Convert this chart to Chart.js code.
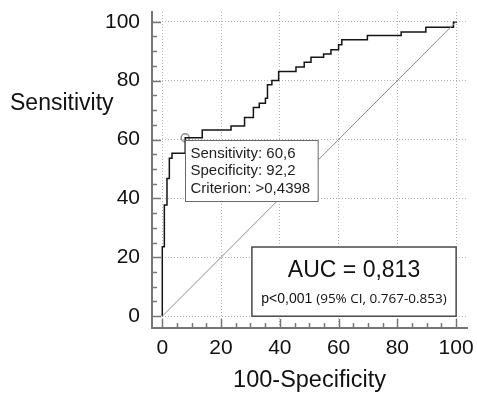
<!DOCTYPE html>
<html>
<head>
<meta charset="utf-8">
<script src="https://cdn.jsdelivr.net/npm/chart.js@4/dist/chart.umd.min.js"></script>
<style>
  html, body { margin: 0; padding: 0; background: #fff; }
  #wrap { width: 477px; height: 395px; }
</style>
</head>
<body>
<div id="wrap"><canvas id="roc" width="477" height="395"></canvas></div>
<script>
// ROC curve vertices (100-Specificity, Sensitivity), step drawn horizontal then vertical
const rocFpr  = [0, 0, 0.7, 1.6, 2.4, 3.3, 7.8, 13.6, 23.4, 28.0, 31.0, 33.0, 35.1, 35.8, 37.3, 39.6, 45.5, 48.3, 50.6, 54.9, 57.4, 60.0, 61.1, 69.8, 81.3, 89.7, 99.1, 100];
const rocSens = [0, 23.6, 37.8, 46.8, 53.6, 55.3, 60.6, 63.2, 64.6, 67.5, 70.9, 72.3, 74.0, 78.6, 80.0, 83.1, 84.6, 86.2, 87.9, 89.0, 90.5, 92.2, 93.9, 95.3, 96.5, 98.1, 99.8, 100];

const diagFpr  = [0, 100];
const diagSens = [0, 100];

const cutFpr  = [7.8];
const cutSens = [60.6];

const cutLabels = ['Sensitivity: 60,6', 'Specificity: 92,2', 'Criterion: >0,4398'];
const aucText = 'AUC = 0,813';
const pText = 'p<0,001';
const ciText = '(95% CI, 0.767-0.853)';
const aucBoxX = [30.5, 100];
const aucBoxY = [0, 23.5];

const xTitle = '100-Specificity';
const yTitle = 'Sensitivity';

const toPts = (xs, ys) => xs.map((x, i) => ({ x, y: ys[i] }));

const FONT = "'Liberation Sans', Arial, sans-serif";
const AXIS = '#767676';

const overlay = {
  id: 'overlay',
  afterDraw(chart) {
    const { ctx, chartArea: a, scales: { x, y } } = chart;
    ctx.save();

    // inward tick marks every 5, longer every 20
    ctx.strokeStyle = AXIS;
    ctx.lineWidth = 1.5;
    for (let v = 0; v <= 100; v += 5) {
      const len = v % 20 === 0 ? 9 : 5;
      const py = Math.round(y.getPixelForValue(v)) + 0.5;
      ctx.beginPath(); ctx.moveTo(a.left, py); ctx.lineTo(a.left + len, py); ctx.stroke();
      const px = Math.round(x.getPixelForValue(v)) + 0.5;
      ctx.beginPath(); ctx.moveTo(px, a.bottom); ctx.lineTo(px, a.bottom - len); ctx.stroke();
    }

    // horizontal y title
    ctx.fillStyle = '#111';
    ctx.font = '23px ' + FONT;
    ctx.textAlign = 'left';
    ctx.textBaseline = 'alphabetic';
    ctx.fillText(yTitle, 10, 110);

    // cutoff label box
    const cx = x.getPixelForValue(cutFpr[0]);
    const cy = y.getPixelForValue(cutSens[0]);
    ctx.font = '15px ' + FONT;
    const w = Math.max(...cutLabels.map(t => ctx.measureText(t).width)) + 13;
    const bx = Math.round(cx) + 0.5, by = Math.round(cy + 2) + 0.5;
    ctx.fillStyle = '#fff';
    ctx.fillRect(bx, by, w, 61);
    ctx.strokeStyle = '#6a6a6a';
    ctx.lineWidth = 1;
    ctx.strokeRect(bx, by, w, 61);
    ctx.fillStyle = '#1e1e1e';
    cutLabels.forEach((t, i) => ctx.fillText(t, bx + 5, by + 17 + i * 17.5));

    // AUC box
    const l = x.getPixelForValue(aucBoxX[0]), r = x.getPixelForValue(aucBoxX[1]);
    const t = y.getPixelForValue(aucBoxY[1]), b = y.getPixelForValue(aucBoxY[0]);
    ctx.fillStyle = '#fff';
    ctx.fillRect(l, t, r - l, b - t);
    ctx.strokeStyle = '#4a4a4a';
    ctx.lineWidth = 1.5;
    ctx.strokeRect(l, t, r - l, b - t);
    const mid = (l + r) / 2;
    ctx.fillStyle = '#111';
    ctx.font = '23px ' + FONT;
    ctx.textAlign = 'center';
    ctx.fillText(aucText, mid, t + 30);
    ctx.textAlign = 'left';
    ctx.font = '14px ' + FONT;
    const w1 = ctx.measureText(pText + ' ').width;
    ctx.font = "13.5px 'Open Sans', sans-serif";
    const w2 = ctx.measureText(ciText).width;
    let sx = mid - (w1 + w2) / 2;
    ctx.font = '14px ' + FONT;
    ctx.fillText(pText, sx, t + 56);
    ctx.font = "13.5px 'Open Sans', sans-serif";
    ctx.fillText(ciText, sx + w1, t + 56);

    ctx.restore();
  }
};

new Chart(document.getElementById('roc'), {
  type: 'scatter',
  data: {
    datasets: [
      { data: toPts(diagFpr, diagSens), showLine: true, borderColor: '#8c8c8c', borderWidth: 1, pointRadius: 0 },
      { data: toPts(rocFpr, rocSens), showLine: true, stepped: true, borderColor: '#141414', borderWidth: 1.5, pointRadius: 0 },
      { data: toPts(cutFpr, cutSens), pointRadius: 4, pointBorderWidth: 1.5, pointBorderColor: '#8a8a8a', pointBackgroundColor: 'rgba(0,0,0,0)' }
    ]
  },
  options: {
    responsive: false,
    animation: false,
    layout: { padding: { top: 12, right: 10, left: 0, bottom: 0 } },
    plugins: { legend: { display: false }, tooltip: { enabled: false } },
    scales: {
      x: {
        type: 'linear', min: -3.5, max: 103.7,
        afterFit: s => { s.height = 67; s.paddingLeft = 0; s.paddingRight = 0; },
        ticks: { stepSize: 20, includeBounds: false, padding: 8, color: '#111', font: { family: FONT, size: 21 }, maxRotation: 0 },
        grid: { color: '#b4b4b4', lineWidth: 1, drawTicks: false },
        border: { color: AXIS, width: 2, dash: [1, 2] },
        title: { display: true, text: xTitle, color: '#111', font: { family: FONT, size: 23.5 }, padding: { top: 0, bottom: 0 } }
      },
      y: {
        type: 'linear', min: -4, max: 103.3,
        afterFit: s => { s.width = 152; s.paddingTop = 0; s.paddingBottom = 0; },
        ticks: { stepSize: 20, includeBounds: false, padding: 12, color: '#111', font: { family: FONT, size: 21 } },
        grid: { color: '#b4b4b4', lineWidth: 1, drawTicks: false },
        border: { color: AXIS, width: 2, dash: [1, 2] }
      }
    }
  },
  plugins: [overlay]
});
</script>
</body>
</html>
